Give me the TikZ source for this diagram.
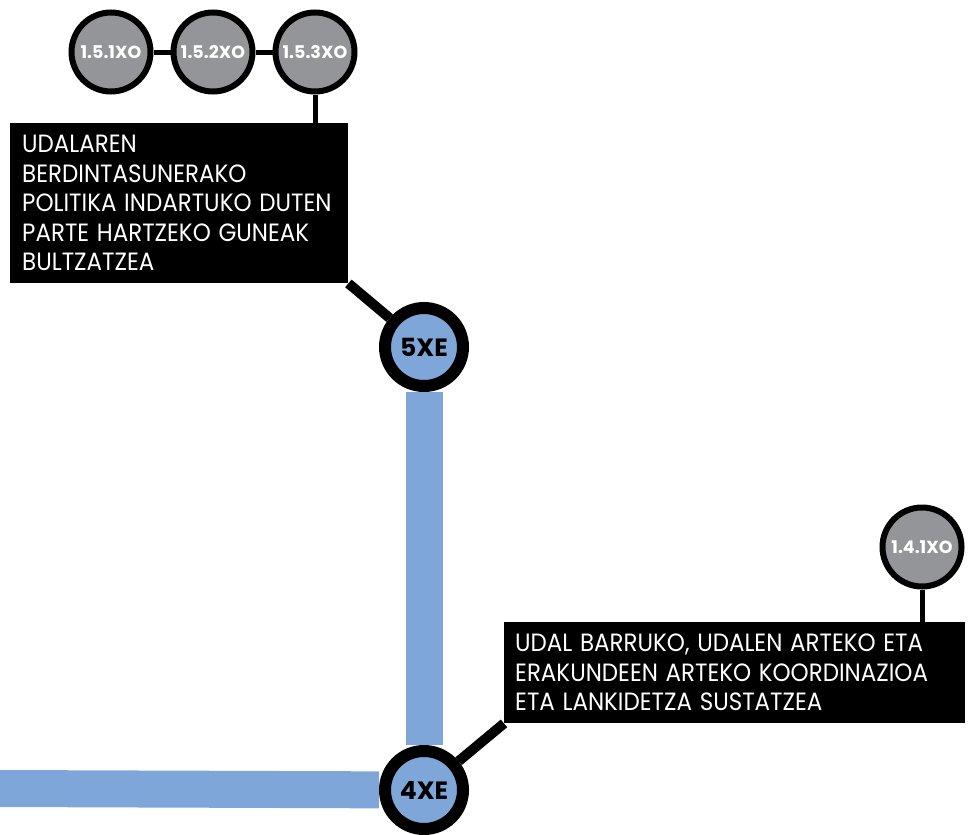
\documentclass[tikz,border=0pt]{standalone}
\usepackage{fontspec}
\setmainfont{Poppins}
\usetikzlibrary{backgrounds}
\definecolor{lineblue}{HTML}{7EA6D8}
\definecolor{stopgray}{HTML}{939598}
\newcommand\sqline[1]{\scalebox{0.92}[1]{#1}}
\begin{document}
\begin{tikzpicture}[x=1pt,y=-1pt,
  axis/.style={line width=37pt, draw=lineblue},
  link/.style={line width=5pt, draw=black},
  spoke/.style={line width=10pt, draw=black},
  bigstop/.style={circle, draw=black, line width=12pt, fill=lineblue, minimum size=78pt, inner sep=0pt, font=\fontsize{25}{25}\selectfont\bfseries, text=black},
  smallstop/.style={circle, draw=black, line width=6pt, fill=stopgray, minimum size=79pt, inner sep=0pt, font=\fontsize{17.5}{17.5}\selectfont\bfseries, text=white},
  textbox/.style={fill=black, text=white, anchor=north west, align=left, inner ysep=0pt, font=\fontsize{25}{29.5}\selectfont}
]
\useasboundingbox (0,0) rectangle (969,835);
% stations
\node[bigstop] (n5) at (424,347) {5XE};
\node[bigstop] (n4) at (424,790) {4XE};
\node[smallstop] (c151) at (111,52) {1.5.1XO};
\node[smallstop] (c152) at (213,52) {1.5.2XO};
\node[smallstop] (c153) at (315,52) {1.5.3XO};
\node[smallstop] (c141) at (922,547) {1.4.1XO};
% boxes
\node[textbox, inner xsep=12pt, text width=314pt, minimum height=160pt] (box1) at (10,123)
  {\sqline{UDALAREN}\\\sqline{BERDINTASUNERAKO}\\\sqline{POLITIKA INDARTUKO DUTEN}\\\sqline{PARTE HARTZEKO GUNEAK}\\\sqline{BULTZATZEA}};
\node[textbox, inner xsep=11pt, text width=439pt, minimum height=101pt] (box2) at (504,622)
  {\sqline{UDAL BARRUKO, UDALEN ARTEKO ETA}\\\sqline{ERAKUNDEEN ARTEKO KOORDINAZIOA}\\\sqline{ETA LANKIDETZA SUSTATZEA}};
\coordinate (west) at (0,788.5);
\begin{scope}[on background layer]
  \draw[axis] (n5) -- (n4);
  \draw[axis] (west) -- (n4);
  \draw[spoke] (box1.south east) -- (n5);
  \draw[spoke] (box2.south west) -- (n4);
  \draw[link] (c151) -- (c152);
  \draw[link] (c152) -- (c153);
  \draw[link] (c153) -- (c153 |- box1.north);
  \draw[link] (c141) -- (c141 |- box2.north);
\end{scope}
\end{tikzpicture}
\end{document}
